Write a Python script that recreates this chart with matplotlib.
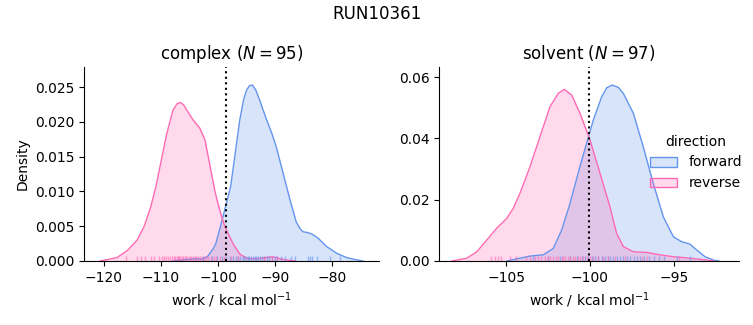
import matplotlib
matplotlib.use('Agg')
import matplotlib.pyplot as plt
from matplotlib.patches import Patch
import numpy as np

# colours used by the original (seaborn palette, hue = direction)
col_fwd = 'cornflowerblue'
col_rev = 'hotpink'

###############################################################################
# Density curves (x = work, y = density)

# complex, forward
cx_fwd_x = [-108.0, -106.0, -104.0, -102.8, -101.9, -100.9, -100.4, -99.6, -98.7,
            -97.8, -97.0, -96.2, -95.5, -95.0, -94.5, -94.0, -93.4, -92.7, -92.1,
            -91.5, -90.6, -89.8, -88.6, -87.4, -86.3, -85.6, -85.1, -84.4, -83.6,
            -82.5, -81.0, -79.2, -77.5, -76.0, -74.6]
cx_fwd_y = [0.0, 0.0002, 0.0003, 0.0003, 0.0006, 0.0017, 0.0025, 0.0049, 0.0078,
            0.0107, 0.0155, 0.0203, 0.0233, 0.0246, 0.0252, 0.0253, 0.0246, 0.0231, 0.0217,
            0.0203, 0.0184, 0.0164, 0.0126, 0.0088, 0.0056, 0.0046, 0.0042, 0.0041, 0.0039,
            0.0033, 0.0021, 0.0011, 0.0005, 0.0002, 0.0]

# complex, reverse
cx_rev_x = [-120.7, -120.0, -117.7, -115.9, -114.2, -113.0, -111.8, -110.9, -110.2,
            -109.0, -107.9, -107.2, -106.6, -106.0, -105.5, -104.4, -103.7, -103.2,
            -102.3, -101.4, -100.6, -100.2, -99.6, -99.0, -98.5, -97.4, -96.2,
            -95.0, -93.5, -92.5, -90.5, -88.5, -86.5]
cx_rev_y = [0.0, 0.0001, 0.0005, 0.0015, 0.0030, 0.0049, 0.0078, 0.0107, 0.0135,
            0.0183, 0.0217, 0.0226, 0.0228, 0.0224, 0.0217, 0.0203, 0.0196, 0.0191,
            0.0174, 0.0136, 0.0102, 0.0088, 0.0070, 0.0054, 0.0044, 0.0025, 0.0010,
            0.0004, 0.0003, 0.0004, 0.0006, 0.0002, 0.0]

# solvent, forward
sv_fwd_x = [-104.97, -104.18, -103.58, -102.79, -102.19, -101.69, -101.19, -100.6,
            -100.2, -99.8, -99.3, -99.0, -98.67, -98.3, -98.01, -97.41, -96.82,
            -96.22, -95.62, -95.02, -94.53, -94.03, -93.63, -93.13, -92.64, -92.3]
sv_fwd_y = [0.0, 0.0009, 0.0016, 0.0020, 0.0041, 0.0101, 0.0188, 0.0308,
            0.0384, 0.0460, 0.0536, 0.0565, 0.0574, 0.0566, 0.0547, 0.0482, 0.0373,
            0.0253, 0.0144, 0.0079, 0.0063, 0.0055, 0.0036, 0.0014, 0.0003, 0.0]

# solvent, reverse
sv_rev_x = [-108.26, -107.36, -106.76, -106.17, -105.57, -104.97, -104.58, -104.18,
            -103.58, -102.99, -102.39, -101.89, -101.53, -101.09, -100.6, -100.0,
            -99.4, -98.81, -98.41, -98.01, -97.41, -96.61, -95.82, -95.02, -94.03,
            -93.03, -92.64]
sv_rev_y = [0.0, 0.0009, 0.0030, 0.0068, 0.0107, 0.0139, 0.0172, 0.0221,
            0.0308, 0.0405, 0.0503, 0.0547, 0.0560, 0.0541, 0.0482, 0.0395,
            0.0286, 0.0177, 0.0090, 0.0047, 0.0030, 0.0028, 0.0020, 0.0014, 0.0009,
            0.0003, 0.0]

###############################################################################
# Rug samples (estimated from the tick marks at the bottom)

cx_fwd_rug = [-102.6, -101.0, -100.2, -99.4, -98.6, -97.9, -97.4, -96.9, -96.5, -96.1,
              -95.7, -95.4, -95.1, -94.8, -94.5, -94.2, -93.9, -93.6, -93.3, -93.0,
              -92.7, -92.3, -91.9, -91.5, -91.1, -90.6, -90.1, -89.6, -89.0, -88.3,
              -87.3, -86.6, -84.3, -83.9, -83.6, -82.7, -80.4, -78.7]
cx_rev_rug = [-116.1, -114.2, -113.5, -112.8, -111.8, -111.2, -110.4, -109.9, -109.5,
              -109.1, -108.8, -108.4, -108.1, -107.8, -107.5, -107.2, -107.0, -106.8,
              -106.6, -106.3, -106.1, -105.8, -105.6, -105.3, -105.0, -104.7, -104.4,
              -104.1, -103.8, -103.5, -103.2, -102.9, -102.5, -102.1, -101.7, -101.2,
              -100.8, -100.3, -99.6, -98.9, -97.8, -96.5, -92.0, -90.5, -89.6]

sv_fwd_rug = [-103.4, -102.5, -101.8, -101.2, -100.8, -100.5, -100.3, -100.1, -99.9,
              -99.7, -99.5, -99.3, -99.1, -98.9, -98.8, -98.6, -98.4, -98.2, -98.0,
              -97.8, -97.6, -97.4, -97.2, -97.0, -96.8, -96.5, -96.2, -95.9, -95.6,
              -94.8, -94.0]
sv_rev_rug = [-105.9, -105.7, -105.5, -105.3, -104.8, -104.4, -103.8, -103.6, -103.3,
              -103.1, -102.9, -102.7, -102.5, -102.4, -102.2, -102.0, -101.9, -101.7,
              -101.6, -101.5, -101.3, -101.2, -101.0, -100.9, -100.7, -100.6, -100.4,
              -100.2, -100.0, -99.8, -99.5, -99.2, -98.9, -98.5, -97.9, -96.9, -96.6,
              -94.7]

# free energy estimates (dotted lines)
cx_dg = -98.7
sv_dg = -100.05

phases = ['complex', 'solvent']
n_samples = [95, 97]
directions = ['forward', 'reverse']

###############################################################################

fig = plt.figure(figsize=(7.53, 3.25), dpi=100)
ax1 = fig.add_axes([0.1116, 0.197, 0.3917, 0.597])
ax2 = fig.add_axes([0.5834, 0.197, 0.398, 0.597])

panels = [
    (ax1, cx_fwd_x, cx_fwd_y, cx_rev_x, cx_rev_y, cx_fwd_rug, cx_rev_rug, cx_dg),
    (ax2, sv_fwd_x, sv_fwd_y, sv_rev_x, sv_rev_y, sv_fwd_rug, sv_rev_rug, sv_dg),
]

for i, (ax, fx, fy, rx, ry, frug, rrug, dg) in enumerate(panels):
    ax.fill_between(fx, fy, color=col_fwd, alpha=0.25, lw=0)
    ax.plot(fx, fy, color=col_fwd, lw=1)
    ax.fill_between(rx, ry, color=col_rev, alpha=0.25, lw=0)
    ax.plot(rx, ry, color=col_rev, lw=1)
    # rug
    trans = ax.get_xaxis_transform()
    ax.vlines(frug, 0, 0.025, transform=trans, color=col_fwd, lw=1, alpha=0.6)
    ax.vlines(rrug, 0, 0.025, transform=trans, color=col_rev, lw=1, alpha=0.6)
    ax.axvline(dg, color='k', ls=':', lw=1.5)
    ax.set_title(phases[i] + ' ($N = %d$)' % n_samples[i])
    ax.set_xlabel('work / kcal mol$^{-1}$')
    ax.spines['top'].set_visible(False)
    ax.spines['right'].set_visible(False)

ax1.set_xlim(-123.5, -71.8)
ax1.set_ylim(0, 0.0279)
ax1.set_xticks([-120, -110, -100, -90, -80])
ax1.set_ylabel('Density')

ax2.set_xlim(-109.0, -91.1)
ax2.set_ylim(0, 0.0633)
ax2.set_xticks([-105, -100, -95])
ax2.set_yticks([0.0, 0.02, 0.04, 0.06])

handles = [Patch(facecolor=matplotlib.colors.to_rgba(col_fwd, 0.25), edgecolor=col_fwd),
           Patch(facecolor=matplotlib.colors.to_rgba(col_rev, 0.25), edgecolor=col_rev)]
fig.legend(handles, directions, title='direction', frameon=False,
           loc='center left', bbox_to_anchor=(0.846, 0.5))

fig.suptitle('RUN10361', y=0.985)

fig.savefig('out.png', dpi=100)
